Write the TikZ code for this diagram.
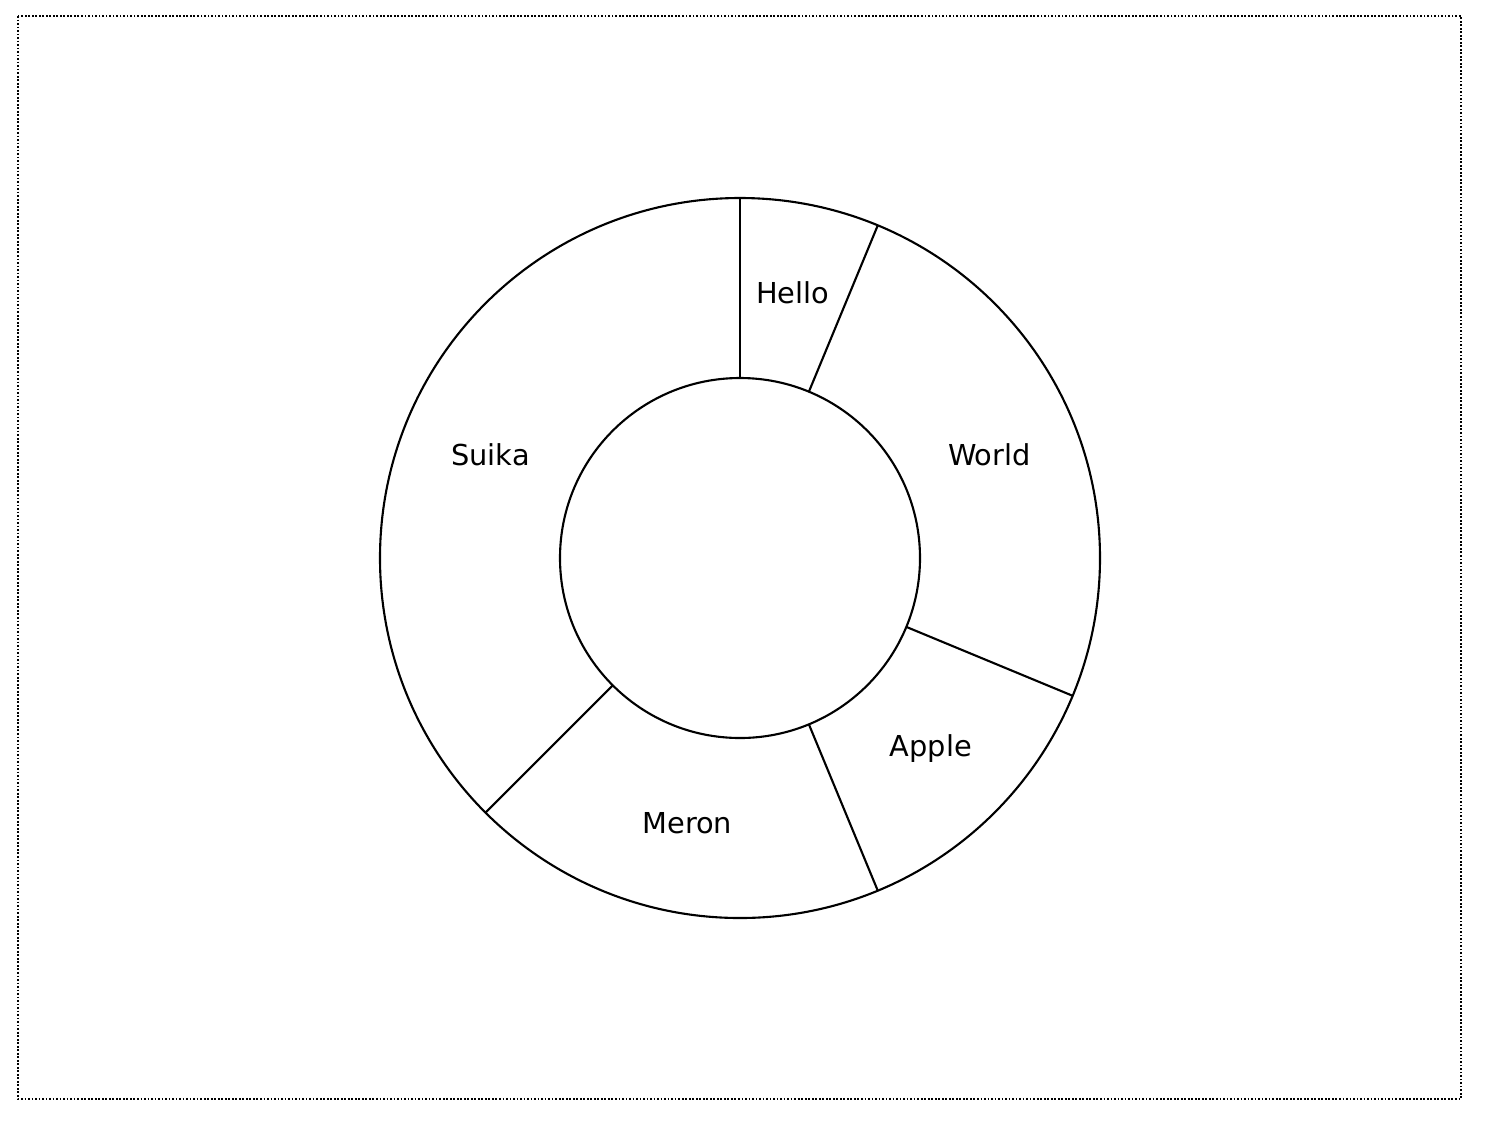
\documentclass[tikz,border=0pt]{standalone}
\usepackage{fontspec}
\setmainfont{DejaVu Sans}
\usetikzlibrary{calc}
\begin{document}
\begin{tikzpicture}[line width=0.6pt, every node/.style={font=\fontsize{8.2}{10}\selectfont}]
		\useasboundingbox (-7.40,5.58) rectangle (7.50,-5.64);
		\draw [line width=0.4pt, dash pattern=on 0.5pt off 0.5pt] (-7.22,5.42) rectangle (7.21,-5.41);
		\coordinate (c) at (0,0);
		\draw (c) circle (3.6);
		\draw (c) circle (1.8);
		\foreach \a in {90, 67.5, -22.5, -67.5, -135}
			\draw ($(c)+(\a:1.8)$) -- ($(c)+(\a:3.6)$);
		\foreach \name/\ntext/\a in {hello/Hello/78.75, world/World/22.5, apple/Apple/-45, meron/Meron/-101.25, suika/Suika/157.5}
			\node (\name) at (\a:2.7) {\ntext};
	\end{tikzpicture}
\end{document}
